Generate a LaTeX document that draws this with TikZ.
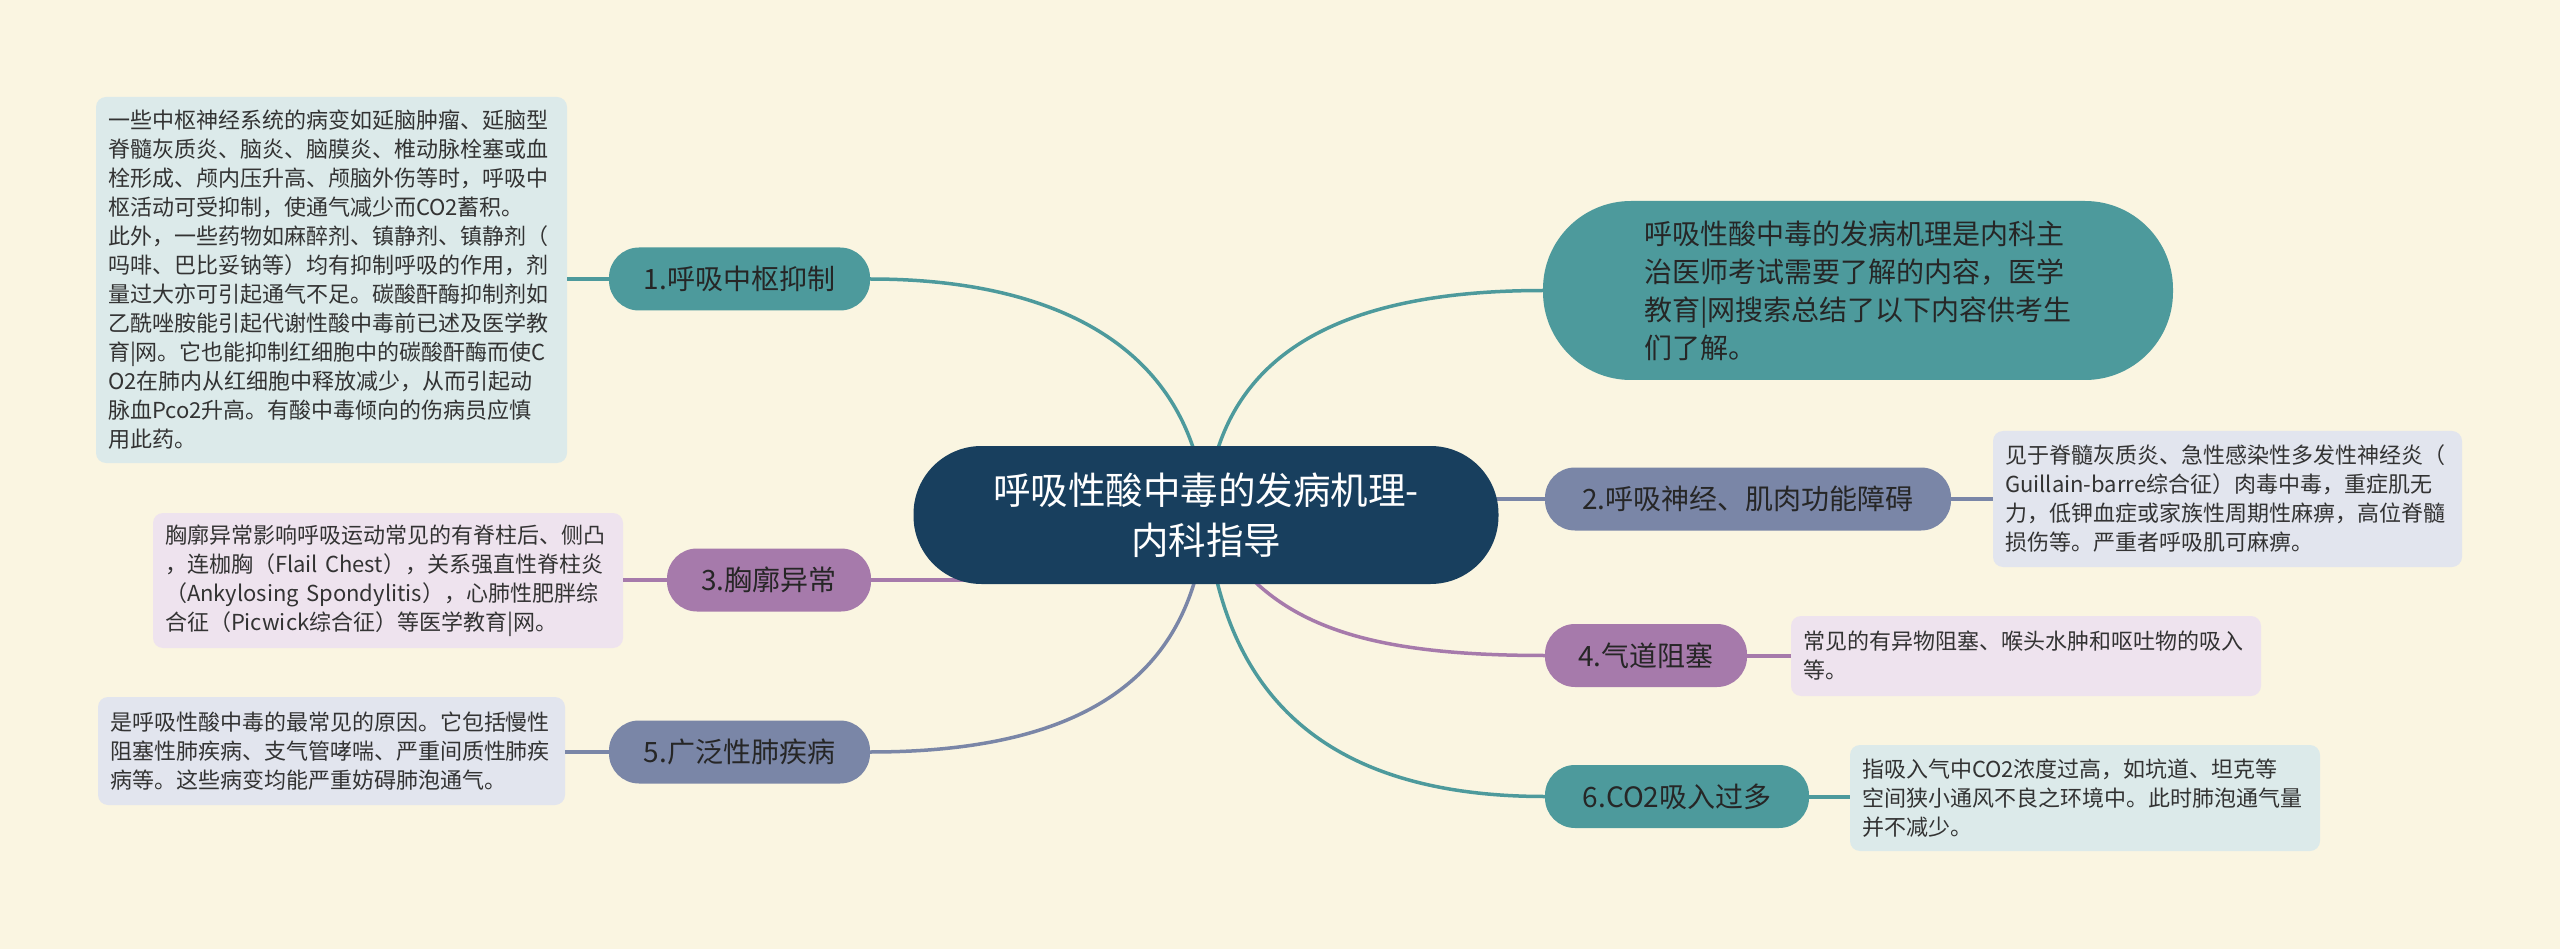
\documentclass[tikz,border=0pt]{standalone}
\usepackage{fontspec}
\setmainfont{Noto Sans CJK SC}
\definecolor{bg}{HTML}{FAF5E1}
\definecolor{navy}{HTML}{183F5E}
\definecolor{tealc}{HTML}{4D9A9C}
\definecolor{greyc}{HTML}{7A86A7}
\definecolor{purc}{HTML}{A67AAB}
\definecolor{tealn}{HTML}{DCEAEA}
\definecolor{greyn}{HTML}{E2E5EE}
\definecolor{purn}{HTML}{EEE3EE}
\definecolor{txt}{HTML}{262626}
\definecolor{ntxt}{HTML}{333333}
\tikzset{
  pill/.style={rounded corners=30pt, minimum height=63pt, inner sep=0pt, text=txt,
    font=\fontsize{28pt}{32pt}\selectfont},
  note/.style={rounded corners=10pt, inner xsep=12pt, inner ysep=0pt, align=left, text=ntxt,
    font=\fontsize{22pt}{29pt}\selectfont},
  conn/.style={line width=3.5pt},
  short/.style={line width=4pt},
}
\begin{document}
\begin{tikzpicture}[x=1pt,y=-1pt]
\useasboundingbox (0,0) rectangle (2560,949);
\fill[bg] (0,0) rectangle (2560,949);

% node placeholders (connectors refer to them; visible nodes drawn on top)
\path (1206,515) node[minimum width=585pt, minimum height=138pt, rounded corners=68pt, inner sep=0pt] (c) {};
\path (1858,290.5) node[minimum width=630pt, minimum height=179pt] (intro) {};
\path (739.5,279) node[pill, minimum width=261pt] (n1) {};
\path (1748,499) node[pill, minimum width=406pt] (n2) {};
\path (769,580) node[pill, minimum width=204pt] (n3) {};
\path (1646,655.5) node[pill, minimum width=202pt] (n4) {};
\path (739.5,752) node[pill, minimum width=261pt] (n5) {};
\path (1677,796.5) node[pill, minimum width=264pt] (n6) {};

% connectors
\draw[conn, tealc] (c.center) .. controls (1195,350) and (1060,279) .. (n1.east);
\draw[conn, tealc] (c.center) .. controls (1215,360) and (1330,290.5) .. (intro.west);
\draw[conn, greyc] (c.center |- n2.west) -- (n2.west);
\draw[conn, purc] (c.center |- n3.east) -- (n3.east);
\draw[conn, purc] (c.center) .. controls (1260,620) and (1350,655.5) .. (n4.west);
\draw[conn, tealc] (c.center) .. controls (1220,660) and (1290,796.5) .. (n6.west);
\draw[conn, greyc] (c.center) .. controls (1195,680) and (1080,752) .. (n5.east);

% central node
\node[fill=navy, text=white, minimum width=585pt, minimum height=138pt, rounded corners=68pt,
  inner sep=0pt, align=center, font=\fontsize{37.5pt}{50pt}\selectfont] at (c.center)
  {呼吸性酸中毒的发病机理-\\内科指导};

% intro
\node[fill=tealc, text=txt, minimum width=630pt, minimum height=179pt, rounded corners=88pt,
  inner sep=0pt, align=left, font=\fontsize{28pt}{38pt}\selectfont] at (intro.center)
  {呼吸性酸中毒的发病机理是内科主\\治医师考试需要了解的内容，医学\\教育|网搜索总结了以下内容供考生\\们了解。};

% branch pills
\node[pill, fill=tealc, minimum width=261pt] at (n1.center) {1.呼吸中枢抑制};
\node[pill, fill=greyc, minimum width=406pt] at (n2.center) {2.呼吸神经、肌肉功能障碍};
\node[pill, fill=purc, minimum width=204pt] at (n3.center) {3.胸廓异常};
\node[pill, fill=purc, minimum width=202pt] at (n4.center) {4.气道阻塞};
\node[pill, fill=greyc, minimum width=261pt] at (n5.center) {5.广泛性肺疾病};
\node[pill, fill=tealc, minimum width=264pt] at (n6.center) {6.CO2吸入过多};

% notes
\node[note, fill=tealn, text width=447pt, minimum height=366pt] (d1) at (331.5,280)
 {一些中枢神经系统的病变如延脑肿瘤、延脑型\\脊髓灰质炎、脑炎、脑膜炎、椎动脉栓塞或血\\栓形成、颅内压升高、颅脑外伤等时，呼吸中\\枢活动可受抑制，使通气减少而CO2蓄积。\\此外，一些药物如麻醉剂、镇静剂、镇静剂（\\吗啡、巴比妥钠等）均有抑制呼吸的作用，剂\\量过大亦可引起通气不足。碳酸酐酶抑制剂如\\乙酰唑胺能引起代谢性酸中毒前已述及医学教\\育|网。它也能抑制红细胞中的碳酸酐酶而使C\\O2在肺内从红细胞中释放减少，从而引起动\\脉血Pco2升高。有酸中毒倾向的伤病员应慎\\用此药。};
\node[note, fill=purn, text width=446pt, minimum height=135pt] (d3) at (388,580.5)
 {胸廓异常影响呼吸运动常见的有脊柱后、侧凸\\，连枷胸（Flail Chest），关系强直性脊柱炎\\（Ankylosing Spondylitis），心肺性肥胖综\\合征（Picwick综合征）等医学教育|网。};
\node[note, fill=greyn, text width=443pt, minimum height=108pt] (d5) at (331.5,751)
 {是呼吸性酸中毒的最常见的原因。它包括慢性\\阻塞性肺疾病、支气管哮喘、严重间质性肺疾\\病等。这些病变均能严重妨碍肺泡通气。};
\node[note, fill=greyn, text width=445pt, minimum height=136pt] (d2) at (2227.5,499)
 {见于脊髓灰质炎、急性感染性多发性神经炎（\\Guillain-barre综合征）肉毒中毒，重症肌无\\力，低钾血症或家族性周期性麻痹，高位脊髓\\损伤等。严重者呼吸肌可麻痹。};
\node[note, fill=purn, text width=446pt, minimum height=80pt] (d4) at (2026,656)
 {常见的有异物阻塞、喉头水肿和呕吐物的吸入\\等。};
\node[note, fill=tealn, text width=446pt, minimum height=106pt] (d6) at (2085,798)
 {指吸入气中CO2浓度过高，如坑道、坦克等\\空间狭小通风不良之环境中。此时肺泡通气量\\并不减少。};

% short connectors
\draw[short, tealc] (n1.west) -- (d1.east |- n1.west);
\draw[short, purc] (n3.west) -- (d3.east |- n3.west);
\draw[short, greyc] (n5.west) -- (d5.east |- n5.west);
\draw[short, greyc] (n2.east) -- (d2.west |- n2.east);
\draw[short, purc] (n4.east) -- (d4.west |- n4.east);
\draw[short, tealc] (n6.east) -- (d6.west |- n6.east);
\end{tikzpicture}
\end{document}
